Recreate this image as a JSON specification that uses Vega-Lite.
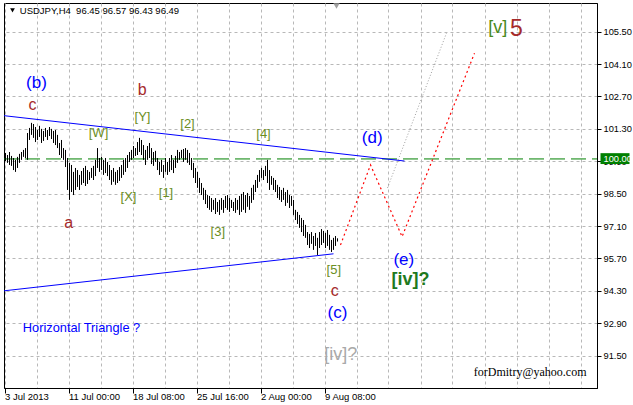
{
 "$schema": "https://vega.github.io/schema/vega-lite/v6.json",
 "width": 593, "height": 385,
 "autosize": {"type": "none"},
 "padding": {"left": 4, "top": 3, "right": 36, "bottom": 17},
 "background": "white",
 "view": {"stroke": "#000000", "strokeWidth": 1},
 "config": {"font": "Liberation Sans", "axis": {"labelFont": "Liberation Sans"}},
 "encoding": {
  "x": {"field": "i", "type": "quantitative", "scale": {"domain": [-0.75, 295.75], "nice": false, "zero": false}, "axis": null},
  "y": {"field": "p", "type": "quantitative", "scale": {"domain": [90.1, 106.74], "nice": false, "zero": false}, "axis": null}
 },
 "resolve": {"axis": {"x": "independent", "y": "independent"}},
 "layer": [
  {
   "data": {"values": [{"i": -0.75, "p": 100.0}, {"i": 295.75, "p": 100.0}]},
   "mark": {"type": "line", "color": "#008000", "strokeWidth": 1, "strokeDash": [15, 6]},
   "encoding": {
    "x": {"field": "i", "type": "quantitative", "scale": {"domain": [-0.75, 295.75], "nice": false, "zero": false},
     "axis": {"orient": "bottom", "values": [-0.5, 15.5, 31.5, 47.5, 63.5, 79.5, 95.5, 111.5, 127.5, 143.5, 159.5, 175.5, 191.5, 207.5, 223.5, 239.5, 255.5, 271.5, 287.5],
      "grid": true, "gridColor": "#b8b8b8", "gridDash": [3, 3], "gridWidth": 1, "labels": false, "ticks": false, "domain": false, "title": null}},
    "y": {"field": "p", "type": "quantitative", "scale": {"domain": [90.1, 106.74], "nice": false, "zero": false},
     "axis": {"orient": "right", "values": [91.5, 92.9, 94.3, 95.7, 97.1, 98.5, 99.9, 101.3, 102.7, 104.1, 105.5], "format": ".2f",
      "grid": true, "gridColor": "#b8b8b8", "gridDash": [3, 3], "tickSize": 4, "tickColor": "#000000", "domainColor": "#000000",
      "labelFontSize": 9.3, "labelColor": "#000000", "labelPadding": 2, "labelAlign": "left", "labelBaseline": "middle", "title": null}}
   }
  },
  {
   "data": {"values": [
    {"s": "u", "i": -0.75, "p": 101.87}, {"s": "u", "i": 199.5, "p": 99.91},
    {"s": "l", "i": -0.75, "p": 94.3}, {"s": "l", "i": 164, "p": 95.9}
   ]},
   "mark": {"type": "line", "color": "#0000ff", "strokeWidth": 1},
   "encoding": {"detail": {"field": "s"}}
  },
  {
   "data": {"values": [
    {"i":0,"h":100.26,"l":99.91},{"i":1,"h":100.17,"l":99.83},{"i":2,"h":100.30,"l":99.74},{"i":3,"h":100.13,"l":99.70},
    {"i":4,"h":100.04,"l":99.52},{"i":5,"h":99.96,"l":99.44},{"i":6,"h":100.09,"l":99.61},{"i":7,"h":100.22,"l":99.83},
    {"i":8,"h":100.30,"l":99.96},{"i":9,"h":100.39,"l":100.09},{"i":10,"h":100.47,"l":100.04},{"i":11,"h":101.12,"l":99.96},
    {"i":12,"h":101.34,"l":100.82},{"i":13,"h":101.56,"l":101.04},{"i":14,"h":101.51,"l":100.91},{"i":15,"h":101.38,"l":100.73},
    {"i":16,"h":101.25,"l":100.82},{"i":17,"h":101.43,"l":100.95},{"i":18,"h":101.30,"l":100.69},{"i":19,"h":101.21,"l":100.78},
    {"i":20,"h":101.34,"l":100.95},{"i":21,"h":101.25,"l":100.82},{"i":22,"h":101.38,"l":100.99},{"i":23,"h":101.30,"l":100.86},
    {"i":24,"h":101.21,"l":100.69},{"i":25,"h":101.25,"l":100.60},{"i":26,"h":101.04,"l":100.47},{"i":27,"h":100.69,"l":100.17},
    {"i":28,"h":100.82,"l":100.04},{"i":29,"h":100.47,"l":99.96},{"i":30,"h":100.39,"l":99.65},{"i":31,"h":100.04,"l":98.66},
    {"i":32,"h":99.83,"l":98.23},{"i":33,"h":99.74,"l":98.57},{"i":34,"h":99.44,"l":98.44},{"i":35,"h":99.61,"l":98.66},
    {"i":36,"h":99.52,"l":98.79},{"i":37,"h":99.31,"l":98.66},{"i":38,"h":99.48,"l":98.88},{"i":39,"h":99.61,"l":98.96},
    {"i":40,"h":99.70,"l":98.83},{"i":41,"h":99.52,"l":98.92},{"i":42,"h":99.44,"l":99.09},{"i":43,"h":99.61,"l":99.18},
    {"i":44,"h":99.70,"l":99.09},{"i":45,"h":99.96,"l":99.26},{"i":46,"h":100.47,"l":99.61},{"i":47,"h":100.04,"l":99.44},
    {"i":48,"h":100.09,"l":99.52},{"i":49,"h":99.96,"l":99.31},{"i":50,"h":100.04,"l":99.39},{"i":51,"h":99.87,"l":99.26},
    {"i":52,"h":99.74,"l":99.09},{"i":53,"h":99.52,"l":98.88},{"i":54,"h":99.61,"l":99.01},{"i":55,"h":99.44,"l":98.88},
    {"i":56,"h":99.52,"l":98.96},{"i":57,"h":99.65,"l":99.05},{"i":58,"h":99.74,"l":99.18},{"i":59,"h":99.96,"l":99.31},
    {"i":60,"h":100.04,"l":99.44},{"i":61,"h":100.17,"l":99.61},{"i":62,"h":100.30,"l":99.87},{"i":63,"h":100.39,"l":99.96},
    {"i":64,"h":100.56,"l":100.04},{"i":65,"h":100.47,"l":100.13},{"i":66,"h":100.73,"l":100.17},{"i":67,"h":100.91,"l":100.30},
    {"i":68,"h":100.82,"l":100.17},{"i":69,"h":100.60,"l":99.96},{"i":70,"h":100.39,"l":99.74},{"i":71,"h":100.56,"l":99.96},
    {"i":72,"h":100.69,"l":100.04},{"i":73,"h":100.47,"l":99.78},{"i":74,"h":100.30,"l":99.70},{"i":75,"h":100.35,"l":99.87},
    {"i":76,"h":100.04,"l":99.52},{"i":77,"h":99.87,"l":99.31},{"i":78,"h":99.96,"l":99.44},{"i":79,"h":99.74,"l":99.18},
    {"i":80,"h":100.04,"l":99.44},{"i":81,"h":99.87,"l":99.31},{"i":82,"h":100.04,"l":99.44},{"i":83,"h":100.17,"l":99.52},
    {"i":84,"h":99.96,"l":99.39},{"i":85,"h":100.13,"l":99.61},{"i":86,"h":100.39,"l":99.83},{"i":87,"h":100.30,"l":99.96},
    {"i":88,"h":100.39,"l":100.04},{"i":89,"h":100.43,"l":99.87},{"i":90,"h":100.47,"l":99.96},{"i":91,"h":100.39,"l":99.83},
    {"i":92,"h":100.26,"l":99.74},{"i":93,"h":100.04,"l":99.52},{"i":94,"h":99.83,"l":99.18},{"i":95,"h":99.61,"l":98.96},
    {"i":96,"h":99.44,"l":98.75},{"i":97,"h":99.18,"l":98.53},{"i":98,"h":98.96,"l":98.44},{"i":99,"h":98.75,"l":98.23},
    {"i":100,"h":98.66,"l":98.05},{"i":101,"h":98.44,"l":97.88},{"i":102,"h":98.40,"l":97.80},{"i":103,"h":98.31,"l":97.71},
    {"i":104,"h":98.23,"l":97.80},{"i":105,"h":98.31,"l":97.62},{"i":106,"h":98.14,"l":97.71},{"i":107,"h":98.23,"l":97.58},
    {"i":108,"h":98.31,"l":97.80},{"i":109,"h":98.23,"l":97.67},{"i":110,"h":98.40,"l":97.88},{"i":111,"h":98.44,"l":97.80},
    {"i":112,"h":98.31,"l":97.71},{"i":113,"h":98.23,"l":97.88},{"i":114,"h":98.14,"l":97.75},{"i":115,"h":98.31,"l":97.67},
    {"i":116,"h":98.23,"l":97.80},{"i":117,"h":98.40,"l":97.58},{"i":118,"h":98.49,"l":97.71},{"i":119,"h":98.57,"l":97.80},
    {"i":120,"h":98.44,"l":97.67},{"i":121,"h":98.53,"l":97.93},{"i":122,"h":98.40,"l":97.80},{"i":123,"h":98.75,"l":98.10},
    {"i":124,"h":98.88,"l":98.23},{"i":125,"h":99.09,"l":98.57},{"i":126,"h":99.31,"l":98.75},{"i":127,"h":99.52,"l":99.01},
    {"i":128,"h":99.61,"l":99.18},{"i":129,"h":99.52,"l":99.09},{"i":130,"h":99.70,"l":99.26},{"i":131,"h":99.96,"l":98.96},
    {"i":132,"h":99.52,"l":98.66},{"i":133,"h":99.26,"l":98.88},{"i":134,"h":99.18,"l":98.66},{"i":135,"h":99.09,"l":98.57},
    {"i":136,"h":98.88,"l":98.31},{"i":137,"h":98.79,"l":98.23},{"i":138,"h":98.66,"l":98.14},{"i":139,"h":98.75,"l":98.23},
    {"i":140,"h":98.57,"l":97.97},{"i":141,"h":98.66,"l":98.10},{"i":142,"h":98.44,"l":97.88},{"i":143,"h":98.40,"l":97.97},
    {"i":144,"h":98.23,"l":97.58},{"i":145,"h":97.80,"l":97.36},{"i":146,"h":97.71,"l":97.19},{"i":147,"h":97.58,"l":97.02},
    {"i":148,"h":97.45,"l":96.84},{"i":149,"h":97.36,"l":96.67},{"i":150,"h":97.15,"l":96.59},{"i":151,"h":96.84,"l":96.28},
    {"i":152,"h":96.76,"l":96.15},{"i":153,"h":96.84,"l":96.33},{"i":154,"h":96.67,"l":96.07},{"i":155,"h":96.80,"l":96.24},
    {"i":156,"h":96.59,"l":95.85},{"i":157,"h":96.84,"l":96.15},{"i":158,"h":96.97,"l":96.28},{"i":159,"h":96.89,"l":96.37},
    {"i":160,"h":96.80,"l":96.15},{"i":161,"h":96.93,"l":96.24},{"i":162,"h":96.72,"l":96.07},{"i":163,"h":96.50,"l":95.98},
    {"i":164,"h":96.59,"l":96.07},{"i":165,"h":96.67,"l":96.24},{"i":166,"h":96.57,"l":96.43}
   ]},
   "mark": {"type": "rule", "color": "#000000", "strokeWidth": 1},
   "encoding": {
    "x": {"field": "i", "type": "quantitative", "scale": {"domain": [-0.75, 295.75], "nice": false, "zero": false},
     "axis": {"orient": "bottom", "values": [-0.5, 31.5, 63.5, 95.5, 127.5, 159.5], "grid": false, "domain": true, "domainColor": "#000000",
      "ticks": true, "tickSize": 5, "tickColor": "#000000", "labelAlign": "left", "labelBaseline": "top", "labelPadding": -2,
      "labelDx": 1, "labelFontSize": 9.5, "labelColor": "#000000", "labelFlush": false, "labelOverlap": false, "title": null,
      "labelExpr": "datum.value < 0 ? '3 Jul 2013' : datum.value < 40 ? '11 Jul 00:00' : datum.value < 70 ? '18 Jul 08:00' : datum.value < 100 ? '25 Jul 16:00' : datum.value < 130 ? '2 Aug 00:00' : '9 Aug 08:00'"}},
    "y": {"field": "h", "type": "quantitative", "scale": {"domain": [90.1, 106.74], "nice": false, "zero": false}, "axis": null},
    "y2": {"field": "l"}
   }
  },
  {
   "data": {"values": [{"i": 167.5, "p": 96.28}, {"i": 182.5, "p": 99.74}, {"i": 198.3, "p": 96.64}, {"i": 234.5, "p": 104.57}]},
   "mark": {"type": "line", "color": "#ff0000", "strokeWidth": 1.2, "strokeDash": [2, 3]},
   "encoding": {}
  },
  {
   "data": {"values": [{"i": 191, "p": 98.75}, {"i": 220.5, "p": 105.44}]},
   "mark": {"type": "line", "color": "#a0a0a0", "strokeWidth": 1, "strokeDash": [1, 2]},
   "encoding": {}
  },
  {
   "data": {"values": [{"t": "(b)", "i": 15.5, "p": 103.28}, {"t": "(d)", "i": 183.35, "p": 100.89}, {"t": "(e)", "i": 199.15, "p": 95.63}, {"t": "(c)", "i": 166, "p": 93.36}]},
   "mark": {"type": "text", "color": "#0000ff", "fontSize": 17, "align": "center", "baseline": "middle"},
   "encoding": {"text": {"field": "t"}}
  },
  {
   "data": {"values": [{"t": "c", "i": 13.5, "p": 102.35}, {"t": "b", "i": 68.3, "p": 102.98}, {"t": "a", "i": 31.65, "p": 97.22}, {"t": "c", "i": 164.65, "p": 94.28}]},
   "mark": {"type": "text", "color": "#a52a2a", "fontSize": 16, "align": "center", "baseline": "middle"},
   "encoding": {"text": {"field": "t"}}
  },
  {
   "data": {"values": [
    {"t": "[Y]", "i": 68.5, "p": 101.83}, {"t": "[W]", "i": 46.5, "p": 101.12}, {"t": "[2]", "i": 91, "p": 101.51},
    {"t": "[4]", "i": 129, "p": 101.08}, {"t": "[X]", "i": 61.5, "p": 98.36}, {"t": "[1]", "i": 80.25, "p": 98.53},
    {"t": "[3]", "i": 106.15, "p": 96.86}, {"t": "[5]", "i": 164.15, "p": 95.2}
   ]},
   "mark": {"type": "text", "color": "#6b8e23", "fontSize": 13, "align": "center", "baseline": "middle"},
   "encoding": {"text": {"field": "t"}}
  },
  {
   "data": {"values": [{"t": "[v]", "i": 246.15, "p": 105.64}]},
   "mark": {"type": "text", "color": "#4a8a1a", "fontSize": 18, "align": "center", "baseline": "middle"},
   "encoding": {"text": {"field": "t"}}
  },
  {
   "data": {"values": [{"t": "5", "i": 255.5, "p": 105.62}]},
   "mark": {"type": "text", "color": "#a52a2a", "fontSize": 23, "align": "center", "baseline": "middle"},
   "encoding": {"text": {"field": "t"}}
  },
  {
   "data": {"values": [{"t": "[iv]?", "i": 202.5, "p": 94.77}]},
   "mark": {"type": "text", "color": "#1e7a1e", "fontSize": 18, "fontWeight": "bold", "align": "center", "baseline": "middle"},
   "encoding": {"text": {"field": "t"}}
  },
  {
   "data": {"values": [{"t": "[iv]?", "i": 167.65, "p": 91.53}]},
   "mark": {"type": "text", "color": "#a9a9a9", "fontSize": 18, "align": "center", "baseline": "middle"},
   "encoding": {"text": {"field": "t"}}
  },
  {
   "data": {"values": [{"t": "Horizontal Triangle ?", "i": 8.65, "p": 92.68}]},
   "mark": {"type": "text", "color": "#0000ff", "fontSize": 12.8, "align": "left", "baseline": "middle"},
   "encoding": {"text": {"field": "t"}}
  },
  {
   "data": {"values": [{"t": "forDmitry@yahoo.com", "i": 290.5, "p": 90.81}]},
   "mark": {"type": "text", "color": "#000000", "font": "Liberation Serif", "fontSize": 12, "align": "right", "baseline": "middle"},
   "encoding": {"text": {"field": "t"}}
  },
  {
   "data": {"values": [{"t": "USDJPY,H4\u00a0\u00a096.45 96.57 96.43 96.49", "i": 7.15, "p": 106.41}]},
   "mark": {"type": "text", "color": "#000000", "fontSize": 9.5, "align": "left", "baseline": "middle"},
   "encoding": {"text": {"field": "t"}}
  },
  {
   "data": {"values": [{"i": 3.5, "p": 106.42}]},
   "mark": {"type": "point", "shape": "triangle-down", "filled": true, "color": "#000000", "size": 22, "opacity": 1},
   "encoding": {}
  },
  {
   "data": {"values": [{"i": 165.5, "p": 106.61}]},
   "mark": {"type": "point", "shape": "triangle-down", "filled": true, "color": "#a0a0a0", "size": 40, "opacity": 1},
   "encoding": {}
  },
  {
   "data": {"values": [{"i": 297.5, "i2": 312, "p": 100.25, "p2": 99.78}]},
   "mark": {"type": "rect", "color": "#008000", "clip": false},
   "encoding": {"x2": {"field": "i2"}, "y2": {"field": "p2"}}
  },
  {
   "data": {"values": [{"t": "100.00", "i": 299, "p": 100.01}]},
   "mark": {"type": "text", "color": "#ffffff", "fontSize": 9.3, "align": "left", "baseline": "middle"},
   "encoding": {"text": {"field": "t"}}
  }
 ]
}
